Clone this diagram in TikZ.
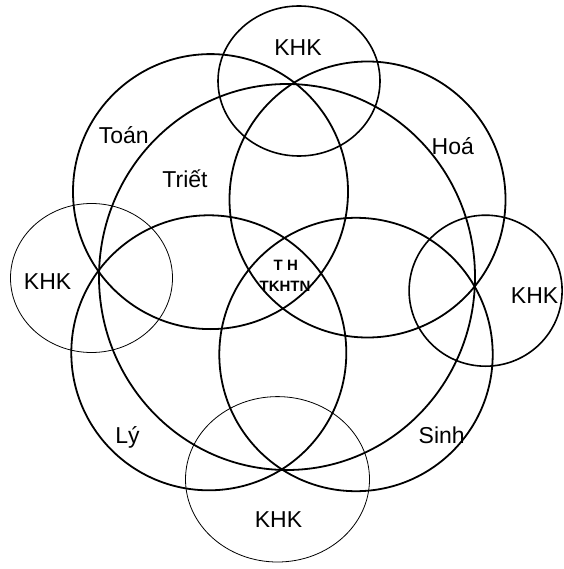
\documentclass[tikz,border=0pt]{standalone}
\usepackage{fontspec}
\setmainfont{Liberation Sans}
\begin{document}
\begin{tikzpicture}[x=1pt,y=-1pt,
  ring/.style={draw=black, line width=1.8pt},
  khkring/.style={draw=black, line width=1.6pt},
  faintring/.style={draw=black, line width=0.8pt},
  lab/.style={font=\fontsize{23}{25}\selectfont, anchor=base, inner sep=0pt},
  core/.style={font=\bfseries\fontsize{15}{17}\selectfont, anchor=base, inner sep=0pt}]
\useasboundingbox (0,0) rectangle (563,569);
% centres
\coordinate (cTriet) at (287,277);
\coordinate (cToan) at (210.5,191.6);
\coordinate (cHoa) at (367.5,199.5);
\coordinate (cLy) at (208.8,352.8);
\coordinate (cSinh) at (356,354.5);
\coordinate (kTop) at (299,81);
\coordinate (kLeft) at (91.5,278);
\coordinate (kRight) at (485.6,290.7);
\coordinate (kBottom) at (277.5,479.3);
% big circle (Triet)
\draw[ring] (cTriet) ellipse [x radius=188, y radius=193];
% subject circles
\draw[ring] (cToan) circle [radius=137.5];
\draw[ring] (cHoa) circle [radius=138];
\draw[ring] (cLy) circle [radius=137.5];
\draw[ring] (cSinh) circle [radius=136.7];
% KHK circles
\draw[khkring] (kTop) ellipse [x radius=81, y radius=75];
\draw[khkring] (kRight) ellipse [x radius=76.5, y radius=75.5];
\draw[faintring] (kLeft) ellipse [x radius=81, y radius=74.5];
\draw[faintring] (kBottom) ellipse [x radius=92, y radius=82.7];
% labels
\node[lab] (tKHKtop) at (298,55.7) {KHK};
\node[lab] (tToan) at (123.7,143.3) {Toán};
\node[lab] (tTriet) at (185,187.7) {Triết};
\node[lab] (tHoa) at (452.8,154.3) {Hoá};
\node[lab] (tKHKleft) at (47.6,289) {KHK};
\node[lab] (tKHKright) at (534.6,303.4) {KHK};
\node[lab] (tLy) at (127.5,443.3) {Lý};
\node[lab] (tSinh) at (441.7,443.3) {Sinh};
\node[lab] (tKHKbottom) at (278.5,527.8) {KHK};
\node[core] (tTH) at (285.8,270) {T H};
\node[core] (tTKHTN) at (285,291.7) {TKHTN};
\end{tikzpicture}
\end{document}
